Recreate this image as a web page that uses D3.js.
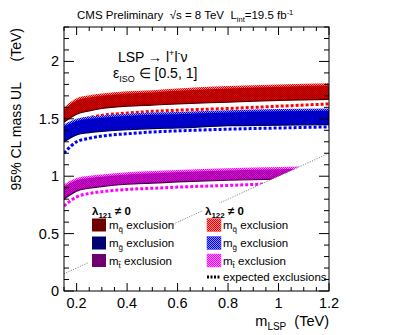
<!DOCTYPE html>
<html>
<head>
<meta charset="utf-8">
<script src="https://cdn.jsdelivr.net/npm/d3@7"></script>
<style>
  body { margin: 0; background: #fff; }
  text { font-family: "Liberation Sans", Arial, sans-serif; fill: #000; white-space: pre; }
</style>
</head>
<body>
<div id="chart"></div>
<script>
// m_LSP grid (TeV)
const mLSP = [0.15, 0.2, 0.25, 0.3, 0.4, 0.5, 0.6, 0.8, 1.0, 1.2];

// squark (red)
const sq122Up = [1.60, 1.68, 1.705, 1.72, 1.74, 1.75, 1.765, 1.785, 1.80, 1.81];
const sq121Up = [1.58, 1.66, 1.685, 1.70, 1.72, 1.73, 1.745, 1.765, 1.78, 1.79];
const sq121Lo = [1.47, 1.54, 1.57, 1.59, 1.61, 1.62, 1.63, 1.645, 1.66, 1.67];
const sq122Lo = [1.48, 1.55, 1.58, 1.60, 1.62, 1.63, 1.64, 1.655, 1.67, 1.68];
const sqExp   = [1.34, 1.47, 1.51, 1.53, 1.55, 1.565, 1.575, 1.59, 1.61, 1.63];

// gluino (blue)
const gl122Up = [1.45, 1.50, 1.52, 1.53, 1.545, 1.555, 1.56, 1.575, 1.585, 1.59];
const gl121Up = [1.43, 1.48, 1.50, 1.51, 1.525, 1.535, 1.54, 1.555, 1.565, 1.57];
const gl121Lo = [1.30, 1.36, 1.38, 1.39, 1.405, 1.415, 1.42, 1.44, 1.445, 1.45];
const gl122Lo = [1.31, 1.37, 1.39, 1.40, 1.415, 1.425, 1.43, 1.45, 1.455, 1.46];
const glExp   = [1.20, 1.30, 1.33, 1.35, 1.37, 1.385, 1.395, 1.41, 1.42, 1.43];

// stop (magenta)
const st122Up = [0.93, 0.985, 1.005, 1.015, 1.035, 1.045, 1.055, 1.07, 1.08, 1.09];
const st121Up = [0.91, 0.965, 0.985, 0.995, 1.015, 1.025, 1.035, 1.05, 1.06, 1.07];
const st121Lo = [0.80, 0.87, 0.895, 0.91, 0.93, 0.94, 0.95, 0.965, 0.975, 0.98];
const st122Lo = [0.81, 0.88, 0.905, 0.92, 0.94, 0.95, 0.96, 0.975, 0.985, 0.99];
const stExp   = [0.74, 0.82, 0.85, 0.865, 0.885, 0.895, 0.905, 0.92, 0.935, 0.94];

const xTicks = [0.2, 0.4, 0.6, 0.8, 1, 1.2];
const yTicks = [0, 0.5, 1, 1.5, 2];
const xDomain = [0.15, 1.2];
const yDomain = [0, 2.3];

const W = 407, H = 335;
const margin = {top: 27, right: 78, bottom: 44, left: 64};

const svg = d3.select("#chart").append("svg")
    .attr("width", W)
    .attr("height", H);

const x = d3.scaleLinear().domain(xDomain).range([margin.left, W - margin.right]);
const y = d3.scaleLinear().domain(yDomain).range([H - margin.bottom, margin.top]);

const defs = svg.append("defs");

// 2px checker pattern: base colour with a second colour on alternate pixels
function checker(id, base, col) {
    let p = defs.append("pattern")
        .attr("id", id)
        .attr("width", 2).attr("height", 2)
        .attr("patternUnits", "userSpaceOnUse");
    p.append("rect").attr("width", 2).attr("height", 2).attr("fill", base);
    p.append("rect").attr("x", 0).attr("y", 0).attr("width", 1).attr("height", 1).attr("fill", col);
    p.append("rect").attr("x", 1).attr("y", 1).attr("width", 1).attr("height", 1).attr("fill", col);
}
checker("redLight", "#ff9090", "#e80000");
checker("redDark", "#d80000", "#a00000");
checker("blueLight", "#9090ff", "#0000f0");
checker("blueDark", "#0000e8", "#0000a8");
checker("magLight", "#ff90ff", "#f000f0");
checker("magDark", "#d800d8", "#980098");

// plot frame clip + kinematic clip (m > m_LSP)
defs.append("clipPath").attr("id", "frameClip")
    .append("rect")
    .attr("x", x(xDomain[0])).attr("y", y(yDomain[1]))
    .attr("width", x(xDomain[1]) - x(xDomain[0]))
    .attr("height", y(yDomain[0]) - y(yDomain[1]));

defs.append("clipPath").attr("id", "diagClip")
    .append("polygon")
    .attr("points", [
        [x(xDomain[0]), y(xDomain[0])],
        [x(xDomain[1]), y(xDomain[1])],
        [x(xDomain[1]), y(yDomain[1])],
        [x(xDomain[0]), y(yDomain[1])]
    ].map(p => p.join(",")).join(" "));

const plot = svg.append("g").attr("clip-path", "url(#frameClip)");
const bands = plot.append("g").attr("clip-path", "url(#diagClip)");

function area(lo, up) {
    return d3.area()
        .x((d, i) => x(mLSP[i]))
        .y0((d, i) => y(lo[i]))
        .y1((d, i) => y(up[i]))
        .curve(d3.curveMonotoneX)(mLSP);
}
function line(vals) {
    return d3.line()
        .x((d, i) => x(mLSP[i]))
        .y(d => y(d))
        .curve(d3.curveMonotoneX)(vals);
}

const sets = [
    {up121: sq121Up, lo121: sq121Lo, up122: sq122Up, lo122: sq122Lo, exp: sqExp,
        light: "url(#redLight)", dark: "url(#redDark)", edge: "#500000", dot: "#ff0000"},
    {up121: gl121Up, lo121: gl121Lo, up122: gl122Up, lo122: gl122Lo, exp: glExp,
        light: "url(#blueLight)", dark: "url(#blueDark)", edge: "#000050", dot: "#0000ff"},
    {up121: st121Up, lo121: st121Lo, up122: st122Up, lo122: st122Lo, exp: stExp,
        light: "url(#magLight)", dark: "url(#magDark)", edge: "#500050", dot: "#ff00ff"}
];

sets.forEach(s => {
    bands.append("path").attr("d", area(s.lo122, s.up122)).attr("fill", s.light);
    bands.append("path").attr("d", area(s.lo121, s.up121)).attr("fill", s.dark);
    bands.append("path").attr("d", line(s.lo121))
        .attr("fill", "none").attr("stroke", s.edge).attr("stroke-width", 1.2);
    bands.append("path").attr("d", line(s.exp))
        .attr("fill", "none").attr("stroke", s.dot)
        .attr("stroke-width", 3).attr("stroke-dasharray", "3,2");
});

// m = m_LSP diagonal
plot.append("line")
    .attr("x1", x(xDomain[0])).attr("y1", y(xDomain[0]))
    .attr("x2", x(xDomain[1])).attr("y2", y(xDomain[1]))
    .attr("stroke", "#777").attr("stroke-width", 1)
    .attr("stroke-dasharray", "1,1.5");

// legend backgrounds
svg.append("rect").attr("x", 89).attr("y", 203).attr("width", 81).attr("height", 67).attr("fill", "#fff");
svg.append("rect").attr("x", 203).attr("y", 203).attr("width", 124).attr("height", 84).attr("fill", "#fff");

// axes frame
const g = svg.append("g");
g.append("rect")
    .attr("x", x(xDomain[0])).attr("y", y(yDomain[1]))
    .attr("width", x(xDomain[1]) - x(xDomain[0]))
    .attr("height", y(yDomain[0]) - y(yDomain[1]))
    .attr("fill", "none").attr("stroke", "#000").attr("stroke-width", 1);

// ticks
const xMinor = d3.range(0.15, 1.2001, 0.05);
const yMinor = d3.range(0, 2.3001, 0.1);
xMinor.forEach(v => {
    let major = xTicks.some(t => Math.abs(t - v) < 1e-6);
    let len = major ? 8 : 4;
    g.append("line").attr("x1", x(v)).attr("x2", x(v))
        .attr("y1", y(0)).attr("y2", y(0) - len).attr("stroke", "#000");
    g.append("line").attr("x1", x(v)).attr("x2", x(v))
        .attr("y1", y(2.3)).attr("y2", y(2.3) + len).attr("stroke", "#000");
});
yMinor.forEach(v => {
    let major = yTicks.some(t => Math.abs(t - v) < 1e-6);
    let len = major ? 10 : 5;
    g.append("line").attr("y1", y(v)).attr("y2", y(v))
        .attr("x1", x(xDomain[0])).attr("x2", x(xDomain[0]) + len).attr("stroke", "#000");
    g.append("line").attr("y1", y(v)).attr("y2", y(v))
        .attr("x1", x(xDomain[1])).attr("x2", x(xDomain[1]) - len).attr("stroke", "#000");
});

// tick labels
g.selectAll(".xl").data(xTicks).enter().append("text")
    .attr("x", d => x(d)).attr("y", y(0) + 17)
    .attr("text-anchor", "middle").attr("font-size", 14.5)
    .text(d => d);
g.selectAll(".yl").data(yTicks).enter().append("text")
    .attr("x", x(xDomain[0]) - 5).attr("y", d => y(d) + 5)
    .attr("text-anchor", "end").attr("font-size", 14.5)
    .text(d => d);

// axis titles
let xt = svg.append("text").attr("x", x(xDomain[1])).attr("y", 326)
    .attr("text-anchor", "end").attr("font-size", 14.5);
xt.append("tspan").text("m");
xt.append("tspan").attr("font-size", 10).attr("dy", 4).text("LSP");
xt.append("tspan").attr("dy", -4).text("  (TeV)");

svg.append("text").attr("transform", "translate(21,28) rotate(-90)")
    .attr("text-anchor", "end").attr("font-size", 14).text("(TeV)");
svg.append("text").attr("transform", "translate(21,82) rotate(-90)")
    .attr("text-anchor", "end").attr("font-size", 14).text("95% CL mass UL");

// header
let tt = svg.append("text").attr("x", 77).attr("y", 19).attr("font-size", 11.5);
tt.append("tspan").text("CMS Preliminary  \u221As = 8 TeV  L");
tt.append("tspan").attr("font-size", 7.5).attr("dy", 3).text("int");
tt.append("tspan").attr("dy", -3).text("=19.5 fb");
tt.append("tspan").attr("font-size", 7.5).attr("dy", -4).text("-1");

// in-plot text
let t1 = svg.append("text").attr("x", 118).attr("y", 62).attr("font-size", 14);
t1.append("tspan").text("LSP \u2192 l");
t1.append("tspan").attr("font-size", 9).attr("dy", -6).text("+");
t1.append("tspan").attr("dy", 6).text("l");
t1.append("tspan").attr("font-size", 9).attr("dy", -6).text("-");
t1.append("tspan").attr("dy", 6).text("\u03bd");

let t2 = svg.append("text").attr("x", 113).attr("y", 78).attr("font-size", 14);
t2.append("tspan").text("\u03b5");
t2.append("tspan").attr("font-size", 9).attr("dy", 4).text("ISO");
t2.append("tspan").attr("dy", -4).text(" \u2208 [0.5, 1]");

// legends
const legRows = [
    {sub: "q\u0303", c121: "#700000", pat: "url(#redLight)", c122: "#ff4040"},
    {sub: "g\u0303", c121: "#000070", pat: "url(#blueLight)", c122: "#4040ff"},
    {sub: "t\u0303", c121: "#700070", pat: "url(#magLight)", c122: "#ff40ff"}
];
const rowY = [225, 243, 260.5];

function header(xp, lab) {
    let h = svg.append("text").attr("x", xp).attr("y", 215).attr("font-size", 11.5).attr("font-weight", "bold");
    h.append("tspan").text("\u03bb");
    h.append("tspan").attr("font-size", 8).attr("dy", 3).text(lab);
    h.append("tspan").attr("dy", -3).text(" \u2260 0");
}
header(92, "121");
header(205, "122");

function entry(xp, yc, sub) {
    let t = svg.append("text").attr("x", xp).attr("y", yc + 4).attr("font-size", 11.5);
    t.append("tspan").text("m");
    t.append("tspan").attr("font-size", 8).attr("dy", 3).text(sub);
    t.append("tspan").attr("dy", -3).text(" exclusion");
}

legRows.forEach((r, i) => {
    svg.append("rect").attr("x", 92).attr("y", rowY[i] - 6.5).attr("width", 14).attr("height", 13)
        .attr("fill", r.c121);
    entry(109, rowY[i], r.sub);
    svg.append("rect").attr("x", 207).attr("y", rowY[i] - 6.5).attr("width", 14).attr("height", 13)
        .attr("fill", r.pat).attr("stroke", r.c122).attr("stroke-width", 0.5);
    entry(223, rowY[i], r.sub);
});

svg.append("line").attr("x1", 207).attr("x2", 221).attr("y1", 277).attr("y2", 277)
    .attr("stroke", "#000").attr("stroke-width", 3).attr("stroke-dasharray", "2,1.5");
svg.append("text").attr("x", 223).attr("y", 281).attr("font-size", 11.5).text("expected exclusions");
</script>
</body>
</html>
